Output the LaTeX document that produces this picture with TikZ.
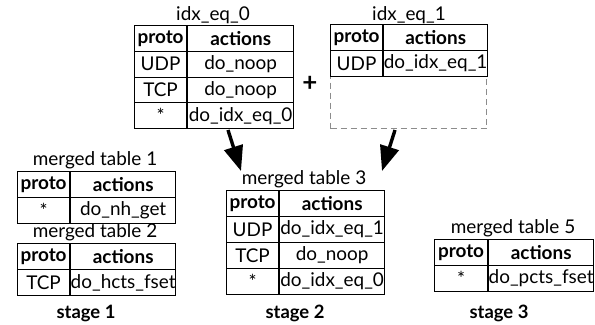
\documentclass[tikz,border=0pt]{standalone}
\usepackage{fontspec}
\setmainfont{Lato}
\usetikzlibrary{arrows.meta}

% one row of a two-column table: name, x, y, proto width, action width, height, proto, action
\newcommand\tabrow[8]{%
  \node[cell, minimum width=#4bp, minimum height=#6bp, anchor=north west] (#1p) at (#2,#3) {#7};
  \node[cell, minimum width=#5bp, minimum height=#6bp, anchor=north west] (#1a) at (#1p.north east) {#8};}

\tikzset{
  cell/.style={draw, line width=1.1bp, inner sep=0pt, font=\fontsize{19}{20}\selectfont},
  title/.style={anchor=base, inner sep=0pt, font=\fontsize{19}{20}\selectfont},
  stagelbl/.style={anchor=base, inner sep=0pt, font=\fontsize{18.5}{20}\selectfont\bfseries},
  merge/.style={line width=3.4bp, -{Triangle[length=25bp,width=19bp]}},
  emptyrows/.style={draw=black!45, dashed, dash pattern=on 6bp off 4bp, line width=1.1bp, inner sep=0pt, anchor=north west}
}

\begin{document}
\begin{tikzpicture}[x=1bp,y=-1bp]
\useasboundingbox (0,0) rectangle (595,324);

% ---- idx_eq_0
\node[title] (t0) at (213,20) {idx\_eq\_0};
\tabrow{t0h}{134}{25}{52}{106}{25.75}{\textbf{proto}}{\textbf{actions}}
\tabrow{t0r1}{134}{50.75}{52}{106}{25.75}{UDP}{do\_noop}
\tabrow{t0r2}{134}{76.5}{52}{106}{25.75}{TCP}{do\_noop}
\tabrow{t0r3}{134}{102.25}{52}{106}{25.75}{*}{do\_idx\_eq\_0}

\node[font=\fontsize{26}{26}\selectfont\bfseries, inner sep=0pt] (plus) at (310,84) {+};

% ---- idx_eq_1 (with room left for missing rows)
\node[emptyrows, minimum width=156bp, minimum height=52bp] (t1gap) at (330,76) {};
\node[title] (t1) at (409,20) {idx\_eq\_1};
\tabrow{t1h}{330}{24}{52}{104}{26}{\textbf{proto}}{\textbf{actions}}
\tabrow{t1r1}{330}{50}{52}{104}{26}{UDP}{do\_idx\_eq\_1}

% ---- stage 1
\node[title] (m1) at (95,165) {merged table 1};
\tabrow{m1h}{17}{171}{52}{105}{26}{\textbf{proto}}{\textbf{actions}}
\tabrow{m1r1}{17}{197}{52}{105}{26}{*}{do\_nh\_get}

\node[title] (m2) at (95,237) {merged table 2};
\tabrow{m2h}{17}{243}{52}{105}{26}{\textbf{proto}}{\textbf{actions}}
\tabrow{m2r1}{17}{269}{52}{105}{26}{TCP}{do\_hcts\_fset}

\node[stagelbl] (s1) at (86,318) {stage 1};

% ---- stage 2
\node[title] (m3) at (304,184) {merged table 3};
\tabrow{m3h}{226}{190}{52}{105}{26}{\textbf{proto}}{\textbf{actions}}
\tabrow{m3r1}{226}{216}{52}{105}{26}{UDP}{do\_idx\_eq\_1}
\tabrow{m3r2}{226}{242}{52}{105}{26}{TCP}{do\_noop}
\tabrow{m3r3}{226}{268}{52}{105}{26}{*}{do\_idx\_eq\_0}

\node[stagelbl] (s2) at (295,318) {stage 2};

% ---- stage 3
\node[title] (m5) at (513,233) {merged table 5};
\tabrow{m5h}{434}{239}{53}{105}{26}{\textbf{proto}}{\textbf{actions}}
\tabrow{m5r1}{434}{265}{53}{105}{26}{*}{do\_pcts\_fset}

\node[stagelbl] (s3) at (499,318) {stage 3};

% ---- merge arrows
\coordinate (a0s) at (228,130);
\coordinate (a0e) at (241,171);
\coordinate (a1s) at (395,130);
\coordinate (a1e) at (382,171);
\draw[merge] (a0s) -- (a0e);
\draw[merge] (a1s) -- (a1e);
\end{tikzpicture}
\end{document}
